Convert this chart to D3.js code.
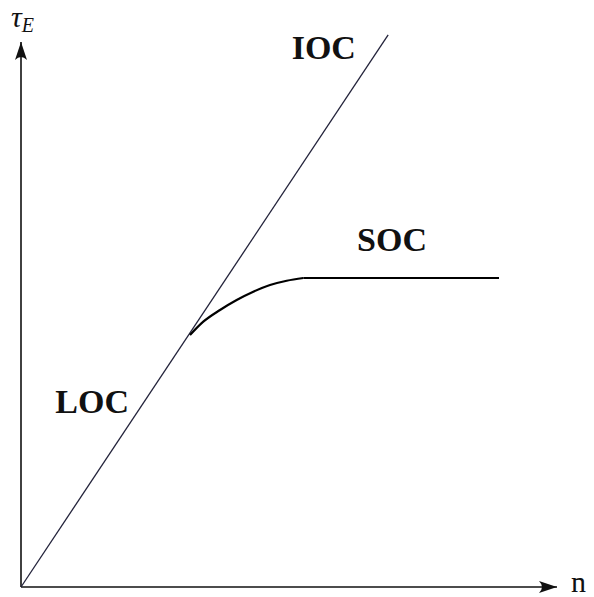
<!DOCTYPE html>
<html>
<head>
<meta charset="utf-8">
<script src="https://cdn.jsdelivr.net/npm/d3@7"></script>
<style>
  html, body { margin: 0; padding: 0; background: #fff; }
  svg { display: block; }
  text { font-family: "Liberation Serif", "Times New Roman", serif; fill: #111; }
</style>
</head>
<body>
<svg id="chart" width="594" height="597"></svg>
<script>
// Axis extents (data units)
const nMax = 10;
const tauMax = 10;

// Straight characteristic through the origin: LOC below, IOC above
const ocLine = [
  { n: 0, tau: 0 },
  { n: 6.85, tau: 10.13 }
];

// SOC branch: leaves the line and levels off to a plateau
const socCurve = [
  { n: 3.153, tau: 4.624 },
  { n: 3.401, tau: 4.868 },
  { n: 3.713, tau: 5.083 },
  { n: 4.024, tau: 5.266 },
  { n: 4.334, tau: 5.418 },
  { n: 4.646, tau: 5.541 },
  { n: 4.957, tau: 5.620 },
  { n: 5.267, tau: 5.670 }
];
const socPlateau = [
  { n: 5.267, tau: 5.670 },
  { n: 8.918, tau: 5.670 }
];

// Region labels
const labels = [
  { text: "IOC", n: 5.05, tau: 9.68 },
  { text: "SOC", n: 6.27, tau: 6.17 },
  { text: "LOC", n: 0.64, tau: 3.19 }
];

const svg = d3.select("#chart");

const x = d3.scaleLinear().domain([0, nMax]).range([21, 557]);
const y = d3.scaleLinear().domain([0, tauMax]).range([587, 42]);

// Arrowhead marker
const defs = svg.append("defs");
defs.append("marker")
  .attr("id", "arrow")
  .attr("viewBox", "0 0 18 12")
  .attr("refX", 18).attr("refY", 6)
  .attr("markerWidth", 18).attr("markerHeight", 12)
  .attr("markerUnits", "userSpaceOnUse")
  .attr("orient", "auto")
  .append("path")
  .attr("d", "M0,0 Q6,6 0,12 L18,6 Z")
  .attr("fill", "#111");

// Axes
svg.append("line")
  .attr("x1", x(0)).attr("y1", y(0))
  .attr("x2", x(nMax)).attr("y2", y(0))
  .attr("stroke", "#111").attr("stroke-width", 1.6)
  .attr("marker-end", "url(#arrow)");
svg.append("line")
  .attr("x1", x(0)).attr("y1", y(0))
  .attr("x2", x(0)).attr("y2", y(tauMax))
  .attr("stroke", "#111").attr("stroke-width", 1.6)
  .attr("marker-end", "url(#arrow)");

// Axis titles
svg.append("text")
  .attr("x", 571).attr("y", 592)
  .attr("font-size", 30)
  .text("n");

const yTitle = svg.append("text")
  .attr("x", 11).attr("y", 27)
  .attr("font-size", 30)
  .attr("font-style", "italic");
yTitle.append("tspan").text("τ");
yTitle.append("tspan").attr("font-size", 20).attr("dy", 5).text("E");

const line = d3.line().x(d => x(d.n)).y(d => y(d.tau));

svg.append("path")
  .datum(ocLine)
  .attr("d", line)
  .attr("fill", "none")
  .attr("stroke", "#22223a")
  .attr("stroke-width", 1.3);

svg.append("path")
  .datum(socCurve)
  .attr("d", line.curve(d3.curveMonotoneX))
  .attr("fill", "none")
  .attr("stroke", "#000")
  .attr("stroke-width", 2.2);

svg.append("path")
  .datum(socPlateau)
  .attr("d", d3.line().x(d => x(d.n)).y(d => y(d.tau)))
  .attr("fill", "none")
  .attr("stroke", "#000")
  .attr("stroke-width", 1.8);

svg.selectAll("text.region")
  .data(labels)
  .join("text")
  .attr("class", "region")
  .attr("x", d => x(d.n))
  .attr("y", d => y(d.tau))
  .attr("font-size", 34)
  .attr("font-weight", "bold")
  .text(d => d.text);
</script>
</body>
</html>
